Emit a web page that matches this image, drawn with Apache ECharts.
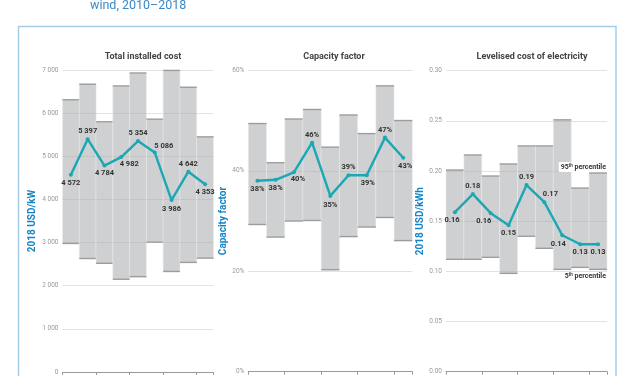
<!DOCTYPE html>
<html>
<head>
<meta charset="utf-8">
<script src="https://cdn.jsdelivr.net/npm/echarts@6/dist/echarts.min.js"></script>
<style>
  html, body { margin: 0; padding: 0; background: #fff; }
  #chart { width: 627px; height: 376px; }
</style>
</head>
<body>
<div id="chart"></div>
<script>
// onshore wind, 2010-2018 : weighted average + 5th/95th percentile range
var years = ['2010', '2011', '2012', '2013', '2014', '2015', '2016', '2017', '2018'];

var costAvg = [4572, 5397, 4784, 4982, 5354, 5086, 3986, 4642, 4353];
var costP5 = [2980, 2630, 2520, 2150, 2210, 3010, 2330, 2540, 2640];
var costP95 = [6310, 6670, 5800, 6630, 6930, 5860, 6990, 6600, 5450];

var cfAvg = [38.0, 38.2, 39.7, 45.6, 35.0, 39.1, 39.1, 46.6, 42.6];
var cfP5 = [29.3, 26.8, 30.0, 30.1, 20.3, 26.9, 28.8, 30.7, 26.1];
var cfP95 = [49.4, 41.6, 50.3, 52.2, 44.7, 51.1, 47.4, 56.9, 50.0];

var lcoeAvg = [0.159, 0.177, 0.158, 0.146, 0.186, 0.169, 0.136, 0.127, 0.127];
var lcoeP5 = [0.112, 0.112, 0.114, 0.098, 0.135, 0.123, 0.102, 0.104, 0.102];
var lcoeP95 = [0.201, 0.216, 0.195, 0.207, 0.225, 0.225, 0.251, 0.183, 0.198];

var costAxis = [0, 7000, 1000];
var cfAxis = [0, 60, 20];
var lcoeAxis = [0, 0.30, 0.05];

// label placement for each point (position, offset)
var costLabelPos = [['bottom', [0, 0]], ['top', [0, 0]], ['bottom', [0, 0]], ['bottom', [8, -1]], ['top', [0, 0]],
  ['top', [9, 2]], ['bottom', [0, 1]], ['top', [0, 0]], ['bottom', [0, 0]]];
var cfLabelPos = [['bottom', [0, 0]], ['bottom', [0, 0]], ['bottom', [4, -1]], ['top', [0, 0]], ['bottom', [0, 1]],
  ['top', [0, 0]], ['bottom', [1, 0]], ['top', [0, 1]], ['bottom', [2, 0]]];
var lcoeLabelPos = [['bottom', [-3, 0]], ['top', [0, 0]], ['bottom', [-7, 0]], ['bottom', [0, 0]], ['top', [0, 0]],
  ['top', [6, 0]], ['bottom', [-4, 1]], ['bottom', [0, 0]], ['bottom', [0, 0]]];

var teal = '#19a8b4';
var blue = '#1784c7';
var font = 'Roboto';

var chart = echarts.init(document.getElementById('chart'));

function renderRange(params, api) {
  var idx = api.value(0);
  var lo = api.coord([idx, api.value(1)]);
  var hi = api.coord([idx, api.value(2)]);
  var w = api.size([1, 0])[0];
  var x0 = lo[0] - w / 2;
  return {
    type: 'group',
    children: [
      { type: 'rect', shape: { x: x0, y: hi[1], width: w, height: lo[1] - hi[1] },
        style: { fill: 'rgba(168,169,172,0.55)', stroke: 'rgba(236,236,236,0.9)', lineWidth: 0.6 } },
      { type: 'line', shape: { x1: x0, y1: hi[1], x2: x0 + w, y2: hi[1] },
        style: { stroke: '#9c9c9c', lineWidth: 1.4 } },
      { type: 'line', shape: { x1: x0, y1: lo[1], x2: x0 + w, y2: lo[1] },
        style: { stroke: '#9c9c9c', lineWidth: 1.4 } }
    ]
  };
}

function rangeData(lo, hi) {
  return lo.map(function (v, i) { return [i, v, hi[i]]; });
}

function lineData(vals, pos, fmt) {
  return vals.map(function (v, i) {
    return {
      value: v,
      label: { position: pos[i][0], offset: pos[i][1], formatter: fmt(v) }
    };
  });
}

function spaced(v) {
  return String(Math.round(v)).replace(/\B(?=(\d{3})+(?!\d))/g, ' ');
}

var grids = [
  { left: 62.5, top: 70, width: 151, height: 302, outerBoundsMode: 'none' },
  { left: 248.3, top: 70.3, width: 164, height: 301.4, outerBoundsMode: 'none' },
  { left: 446, top: 70.7, width: 161, height: 301, outerBoundsMode: 'none' }
];

function xAxisFor(i) {
  return {
    type: 'category', gridIndex: i, data: years,
    axisLine: { lineStyle: { color: '#9a9a9a', width: 1 } },
    axisTick: { show: true, length: 3, lineStyle: { color: '#9a9a9a' } },
    axisLabel: { color: '#777', fontSize: 7 }
  };
}

function yAxisFor(i, ax, name, gap, fmt) {
  return {
    type: 'value', gridIndex: i, min: ax[0], max: ax[1], interval: ax[2],
    name: name, nameLocation: 'middle', nameGap: gap,
    nameTextStyle: { color: blue, fontSize: 10, fontWeight: 'bold', fontFamily: font },
    axisLine: { show: false }, axisTick: { show: false },
    axisLabel: { color: '#9a9a9a', fontSize: 6.5, margin: 4, fontFamily: font, formatter: fmt },
    splitLine: { lineStyle: { color: '#e2e2e2', width: 1 } }
  };
}

function lineSeries(i, data) {
  return {
    type: 'line', xAxisIndex: i, yAxisIndex: i, data: data, z: 5,
    symbol: 'circle', symbolSize: 4,
    lineStyle: { color: teal, width: 2.4 },
    itemStyle: { color: teal },
    label: { show: true, distance: 2, color: '#333', fontSize: 7.5, fontWeight: 'bold', fontFamily: font }
  };
}

function rangeSeries(i, data) {
  return {
    type: 'custom', xAxisIndex: i, yAxisIndex: i, renderItem: renderRange, data: data, z: 2, silent: true
  };
}

var titleStyle = { fontSize: 9, fontWeight: 'bold', color: '#444', fontFamily: font };

var option = {
  backgroundColor: '#fff',
  animation: false,
  title: [
    { text: 'Total installed cost', left: 138, top: 47, textAlign: 'center', textStyle: titleStyle },
    { text: 'Capacity factor', left: 329, top: 47, textAlign: 'center', textStyle: titleStyle },
    { text: 'Levelised cost of electricity', left: 527, top: 47, textAlign: 'center', textStyle: titleStyle }
  ],
  grid: grids,
  xAxis: [xAxisFor(0), xAxisFor(1), xAxisFor(2)],
  yAxis: [
    yAxisFor(0, costAxis, '2018 USD/kW', 25, function (v) { return spaced(v); }),
    yAxisFor(1, cfAxis, 'Capacity factor', 18, function (v) { return v + '%'; }),
    yAxisFor(2, lcoeAxis, '2018 USD/kWh', 17, function (v) { return v.toFixed(2); })
  ],
  series: [
    rangeSeries(0, rangeData(costP5, costP95)),
    lineSeries(0, lineData(costAvg, costLabelPos, spaced)),
    rangeSeries(1, rangeData(cfP5, cfP95)),
    lineSeries(1, lineData(cfAvg, cfLabelPos, function (v) { return Math.round(v) + '%'; })),
    rangeSeries(2, rangeData(lcoeP5, lcoeP95)),
    lineSeries(2, lineData(lcoeAvg, lcoeLabelPos, function (v) { return v.toFixed(2); }))
  ],
  graphic: [
    { type: 'rect', shape: { x: 18.5, y: 26.5, width: 597.5, height: 370 },
      style: { fill: null, stroke: '#a6cde8', lineWidth: 1.5 }, z: 0 },
    { type: 'text', x: 90, y: 6, z: 10,
      style: { text: 'wind, 2010–2018', fill: '#3b88c6', fontSize: 12.5, fontFamily: font, verticalAlign: 'middle' } },
    { type: 'text', x: 607, y: 167, z: 10,
      style: {
        text: '{n|95}{s|th}{n| percentile}', align: 'right', verticalAlign: 'middle',
        backgroundColor: '#fff', padding: [1, 1, 1, 2],
        rich: {
          n: { fontSize: 7, fontWeight: 'bold', fill: '#333', fontFamily: font },
          s: { fontSize: 4.5, fontWeight: 'bold', fill: '#333', fontFamily: font, verticalAlign: 'top', padding: [0, 0, 3, 0] }
        }
      } },
    { type: 'text', x: 606, y: 276, z: 10,
      style: {
        text: '{n|5}{s|th}{n| percentile}', align: 'right', verticalAlign: 'middle',
        rich: {
          n: { fontSize: 7, fontWeight: 'bold', fill: '#333', fontFamily: font },
          s: { fontSize: 4.5, fontWeight: 'bold', fill: '#333', fontFamily: font, verticalAlign: 'top', padding: [0, 0, 3, 0] }
        }
      } }
  ]
};

chart.setOption(option);
</script>
</body>
</html>
